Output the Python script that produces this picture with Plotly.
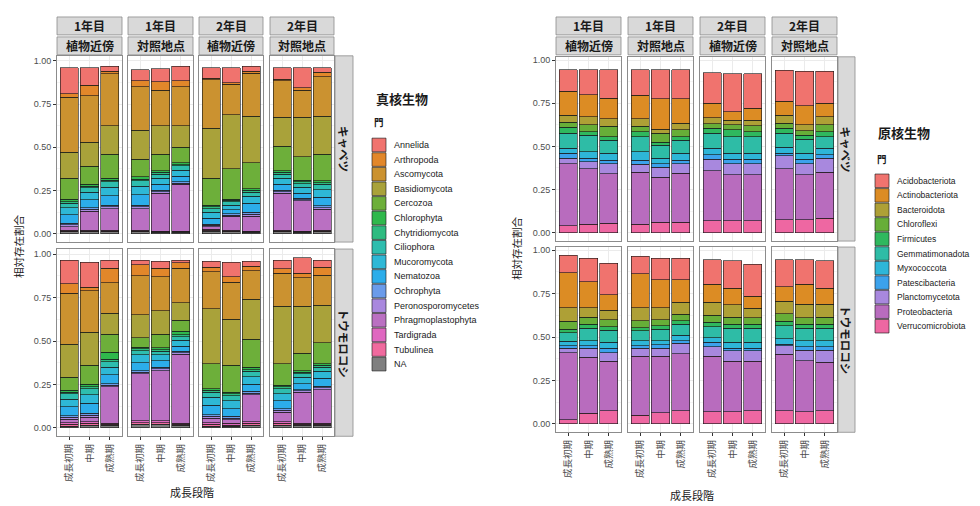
import plotly.graph_objects as go

# page body keeps an 8px margin, so the figure is drawn 8px in from the corner
PAGE_W, PAGE_H, OFF = 980, 506, 8
W, H = PAGE_W - OFF, PAGE_H - OFF

# ---------------- data ----------------
STAGES = ["成長初期", "中期", "成熟期"]
YEAR_LABELS = ["1年目", "1年目", "2年目", "2年目"]
SITE_LABELS = ["植物近傍", "対照地点", "植物近傍", "対照地点"]
CROP_LABELS = ["キャベツ", "トウモロコシ"]

EUK_TAXA = ["Annelida", "Arthropoda", "Ascomycota", "Basidiomycota", "Cercozoa",
            "Chlorophyta", "Chytridiomycota", "Ciliophora", "Mucoromycota",
            "Nematozoa", "Ochrophyta", "Peronosporomycetes", "Phragmoplastophyta",
            "Tardigrada", "Tubulinea", "NA"]
PRO_TAXA = ["Acidobacteriota", "Actinobacteriota", "Bacteroidota", "Chloroflexi",
            "Firmicutes", "Gemmatimonadota", "Myxococcota", "Patescibacteria",
            "Planctomycetota", "Proteobacteria", "Verrucomicrobiota"]

# each list: three bars (成長初期, 中期, 成熟期); each bar lists taxa in EUK_TAXA order
EUK_Y1_NEAR_CABBAGE = [
    [.15, .02, .32, .15, .12, .015, .01, .025, .04, .05, .01, .01, .02, .005, .005, .01],
    [.10, .06, .27, .14, .105, .01, .01, .025, .045, .045, .01, .01, .11, .005, .005, .01],
    [.03, .015, .30, .165, .14, .01, .01, .03, .05, .055, .01, .01, .125, .005, .005, .01],
]
EUK_Y1_CTRL_CABBAGE = [
    [.065, .035, .25, .17, .10, .015, .01, .03, .05, .06, .01, .01, .125, .005, .005, .01],
    [.075, .05, .205, .165, .095, .01, .01, .025, .035, .035, .008, .007, .22, .003, .004, .008],
    [.085, .035, .225, .125, .09, .01, .008, .025, .035, .032, .008, .007, .27, .003, .004, .008],
]
EUK_Y2_NEAR_CABBAGE = [
    [.06, .01, .28, .29, .155, .01, .01, .02, .035, .035, .008, .007, .015, .005, .005, .015],
    [.085, .01, .175, .315, .175, .008, .008, .02, .025, .025, .007, .007, .08, .005, .005, .01],
    [.03, .01, .25, .27, .15, .01, .01, .025, .04, .05, .013, .012, .085, .003, .004, .008],
]
EUK_Y2_CTRL_CABBAGE = [
    [.065, .01, .21, .17, .14, .01, .01, .025, .035, .035, .008, .007, .215, .005, .005, .01],
    [.115, .015, .155, .23, .135, .01, .01, .02, .035, .03, .008, .007, .175, .003, .004, .008],
    [.025, .025, .23, .22, .155, .01, .01, .03, .045, .05, .01, .01, .12, .005, .005, .01],
]
EUK_Y1_NEAR_CORN = [
    [.135, .055, .295, .19, .075, .01, .01, .03, .045, .05, .01, .01, .02, .01, .01, .01],
    [.145, .02, .24, .19, .11, .015, .01, .035, .05, .055, .013, .012, .025, .01, .01, .015],
    [.045, .085, .175, .12, .105, .04, .015, .03, .045, .05, .01, .01, .21, .005, .005, .015],
]
EUK_Y1_CTRL_CORN = [
    [.025, .065, .225, .13, .055, .01, .01, .025, .045, .045, .01, .01, .27, .01, .01, .02],
    [.04, .05, .195, .135, .08, .01, .01, .02, .035, .035, .01, .01, .29, .01, .01, .02],
    [.015, .03, .20, .10, .065, .02, .01, .02, .035, .03, .008, .007, .40, .005, .005, .015],
]
EUK_Y2_NEAR_CORN = [
    [.035, .025, .215, .315, .145, .01, .01, .03, .045, .055, .01, .01, .025, .01, .01, .01],
    [.085, .03, .215, .265, .155, .01, .01, .03, .045, .045, .01, .01, .02, .01, .005, .01],
    [.03, .025, .165, .23, .16, .015, .01, .03, .045, .04, .01, .01, .155, .01, .01, .015],
]
EUK_Y2_CTRL_CORN = [
    [.05, .025, .19, .33, .125, .01, .01, .03, .04, .045, .01, .01, .055, .01, .01, .015],
    [.09, .025, .165, .27, .10, .01, .01, .02, .035, .035, .008, .007, .18, .005, .005, .015],
    [.04, .045, .175, .215, .12, .01, .01, .025, .04, .045, .01, .01, .195, .005, .005, .015],
]

# each bar lists taxa in PRO_TAXA order
PRO_Y1_NEAR_CABBAGE = [
    [.125, .14, .04, .03, .035, .085, .03, .03, .03, .36, .04],
    [.145, .13, .045, .04, .02, .095, .04, .02, .04, .32, .05],
    [.165, .12, .045, .06, .02, .075, .04, .02, .06, .285, .055],
]
PRO_Y1_CTRL_CABBAGE = [
    [.15, .135, .045, .03, .03, .085, .05, .025, .045, .30, .05],
    [.17, .175, .025, .05, .02, .075, .03, .02, .06, .26, .06],
    [.17, .14, .04, .04, .02, .075, .04, .02, .055, .285, .06],
]
PRO_Y2_NEAR_CABBAGE = [
    [.175, .085, .035, .025, .03, .085, .04, .025, .065, .29, .07],
    [.22, .05, .025, .03, .04, .095, .035, .025, .065, .265, .07],
    [.20, .07, .03, .035, .03, .095, .035, .025, .065, .265, .07],
]
PRO_Y2_CTRL_CABBAGE = [
    [.18, .08, .045, .03, .03, .08, .035, .015, .075, .295, .075],
    [.20, .11, .035, .025, .025, .08, .035, .025, .065, .26, .075],
    [.185, .08, .045, .04, .03, .065, .04, .02, .08, .265, .085],
]
PRO_Y1_NEAR_CORN = [
    [.10, .20, .08, .045, .02, .05, .025, .015, .025, .385, .025],
    [.135, .15, .055, .04, .025, .07, .03, .015, .05, .325, .06],
    [.18, .09, .055, .04, .02, .07, .035, .025, .05, .285, .075],
]
PRO_Y1_CTRL_CORN = [
    [.10, .195, .075, .04, .02, .055, .03, .015, .045, .34, .05],
    [.125, .16, .07, .035, .02, .065, .025, .02, .045, .325, .065],
    [.125, .13, .07, .035, .02, .065, .03, .015, .06, .33, .075],
]
PRO_Y2_NEAR_CORN = [
    [.14, .105, .075, .04, .025, .065, .025, .025, .055, .32, .07],
    [.16, .095, .07, .04, .025, .08, .035, .015, .06, .29, .07],
    [.185, .07, .055, .035, .025, .08, .035, .015, .06, .285, .075],
]
PRO_Y2_CTRL_CORN = [
    [.155, .085, .07, .045, .025, .075, .03, .01, .05, .325, .075],
    [.14, .115, .08, .035, .025, .07, .035, .02, .06, .295, .07],
    [.16, .09, .075, .04, .025, .07, .035, .02, .07, .28, .075],
]

EUK_PANELS = [
    [EUK_Y1_NEAR_CABBAGE, EUK_Y1_CTRL_CABBAGE, EUK_Y2_NEAR_CABBAGE, EUK_Y2_CTRL_CABBAGE],
    [EUK_Y1_NEAR_CORN, EUK_Y1_CTRL_CORN, EUK_Y2_NEAR_CORN, EUK_Y2_CTRL_CORN],
]
PRO_PANELS = [
    [PRO_Y1_NEAR_CABBAGE, PRO_Y1_CTRL_CABBAGE, PRO_Y2_NEAR_CABBAGE, PRO_Y2_CTRL_CABBAGE],
    [PRO_Y1_NEAR_CORN, PRO_Y1_CTRL_CORN, PRO_Y2_NEAR_CORN, PRO_Y2_CTRL_CORN],
]

# ---------------- style ----------------
EUK_COLORS = ["#F0736E", "#E2872A", "#CB9230", "#A9A23A", "#6DAF3A", "#2FB84C",
              "#2EBB80", "#2EBDAE", "#2EB8D6", "#2CADEA", "#6A9BEA", "#A988DE",
              "#BA70C2", "#DF67C0", "#F06A9E", "#7F7F7F"]
PRO_COLORS = ["#F0736E", "#DC8C24", "#AEA036", "#67AE38", "#2FB85E", "#2EBCA6",
              "#2EB6D8", "#3CA2EC", "#A888DE", "#B86CBE", "#EE67A2"]

FONT = "Liberation Sans, Noto Sans CJK JP, sans-serif"
JP = "Noto Sans CJK JP, sans-serif"
OUTLINE = "rgba(25,25,25,0.9)"


def fx(p):
    return (p - OFF) / W


def fy(p):
    return 1 - (p - OFF) / H


CHARTS = [
    dict(taxa=EUK_TAXA, colors=EUK_COLORS, panels=EUK_PANELS,
         cols=[(57, 122), (128, 193), (199, 263), (270, 334)],
         rows=[(54, 241), (248, 436)], rstrip=(335, 353),
         strips=[(15, 33), (35, 53)], yrange=[-0.049, 1.03],
         ytitle=(18, 245), xtitle=(192, 492),
         leg=dict(title="真核生物", tx=374, ty=97, sub_y=120, sx=372, sy0=143.5,
                  step=14.67, tsize=9)),
    dict(taxa=PRO_TAXA, colors=PRO_COLORS, panels=PRO_PANELS,
         cols=[(556, 621), (628, 693), (700, 765), (772, 837)],
         rows=[(55, 240), (246, 432)], rstrip=(838, 855),
         strips=[(15, 33), (35, 53)], yrange=[-0.0485, 1.0185],
         ytitle=(516, 247), xtitle=(692, 495),
         leg=dict(title="原核生物", tx=876, ty=131, sub_y=158, sx=875, sy0=179.5,
                  step=14.6, tsize=8.5)),
]

fig = go.Figure()
layout = dict(
    width=W, height=H, margin=dict(l=0, r=0, t=0, b=0),
    paper_bgcolor="white", plot_bgcolor="white", barmode="stack",
    showlegend=False, font=dict(family=FONT, color="#1A1A1A"),
)
shapes, annotations = [], []

idx = 0
for chart in CHARTS:
    taxa, colors = chart["taxa"], chart["colors"]
    for r, (ry0, ry1) in enumerate(chart["rows"]):
        for c, (cx0, cx1) in enumerate(chart["cols"]):
            idx += 1
            xa = "x" if idx == 1 else f"x{idx}"
            ya = "y" if idx == 1 else f"y{idx}"
            panel = chart["panels"][r][c]
            # add bottom taxon first so first taxon ends on top
            for t in range(len(taxa) - 1, -1, -1):
                fig.add_trace(go.Bar(
                    x=STAGES, y=[bar[t] for bar in panel], name=taxa[t],
                    width=0.9, xaxis=xa, yaxis=ya,
                    marker=dict(color=colors[t], line=dict(color=OUTLINE, width=0.7)),
                    hovertemplate=taxa[t] + ": %{y:.3f}<extra></extra>",
                ))
            bottom = r == len(chart["rows"]) - 1
            first = c == 0
            layout[xa.replace("x", "xaxis")] = dict(
                domain=[fx(cx0), fx(cx1)], anchor=ya, type="category",
                range=[-0.6, 2.6], showline=True, mirror=True,
                linecolor="#8C8C8C", linewidth=0.8,
                showgrid=True, gridcolor="#EBEBEB", gridwidth=0.8,
                ticks="outside" if bottom else "", ticklen=3, tickcolor="#333333",
                showticklabels=bottom, tickangle=-90,
                tickfont=dict(size=9.5, color="#4D4D4D", family=JP),
                zeroline=False, fixedrange=True,
            )
            layout[ya.replace("y", "yaxis")] = dict(
                domain=[fy(ry1), fy(ry0)], anchor=xa, range=chart["yrange"],
                showline=True, mirror=True, linecolor="#8C8C8C", linewidth=0.8,
                showgrid=True, gridcolor="#EBEBEB", gridwidth=0.8,
                minor=dict(dtick=0.125, showgrid=True, gridcolor="#F4F4F4", gridwidth=0.5),
                tickvals=[0, 0.25, 0.5, 0.75, 1.0], tickformat=".2f",
                ticks="outside" if first else "", ticklen=3, tickcolor="#333333",
                showticklabels=first, tickfont=dict(size=9, color="#4D4D4D"),
                zeroline=False, fixedrange=True,
            )
    # column strips
    for c, (cx0, cx1) in enumerate(chart["cols"]):
        for s, (sy0, sy1) in enumerate(chart["strips"]):
            shapes.append(dict(type="rect", xref="paper", yref="paper",
                               x0=fx(cx0), x1=fx(cx1), y0=fy(sy1), y1=fy(sy0),
                               fillcolor="#D9D9D9", line=dict(color="#8C8C8C", width=0.8)))
            label = YEAR_LABELS[c] if s == 0 else SITE_LABELS[c]
            annotations.append(dict(xref="paper", yref="paper",
                                    x=fx((cx0 + cx1) / 2), y=fy((sy0 + sy1) / 2),
                                    text=f"<b>{label}</b>", showarrow=False,
                                    font=dict(size=12, family=JP, color="#1A1A1A"),
                                    xanchor="center", yanchor="middle"))
    # row strips
    rx0, rx1 = chart["rstrip"]
    for r, (ry0, ry1) in enumerate(chart["rows"]):
        shapes.append(dict(type="rect", xref="paper", yref="paper",
                           x0=fx(rx0), x1=fx(rx1), y0=fy(ry1), y1=fy(ry0),
                           fillcolor="#D9D9D9", line=dict(color="#8C8C8C", width=0.8)))
        annotations.append(dict(xref="paper", yref="paper",
                                x=fx((rx0 + rx1) / 2), y=fy((ry0 + ry1) / 2),
                                text=f"<b>{CROP_LABELS[r]}</b>", showarrow=False,
                                textangle=90,
                                font=dict(size=11.5, family=JP, color="#1A1A1A"),
                                xanchor="center", yanchor="middle"))
    # axis titles
    tx, ty = chart["ytitle"]
    annotations.append(dict(xref="paper", yref="paper", x=fx(tx), y=fy(ty),
                            text="相対存在割合", showarrow=False, textangle=-90,
                            font=dict(size=10.5, family=JP, color="#1A1A1A"),
                            xanchor="center", yanchor="middle"))
    tx, ty = chart["xtitle"]
    annotations.append(dict(xref="paper", yref="paper", x=fx(tx), y=fy(ty),
                            text="成長段階", showarrow=False,
                            font=dict(size=11, family=JP, color="#1A1A1A"),
                            xanchor="center", yanchor="middle"))
    # legend
    lg = chart["leg"]
    annotations.append(dict(xref="paper", yref="paper", x=fx(lg["tx"]), y=fy(lg["ty"]),
                            text=f"<b>{lg['title']}</b>", showarrow=False,
                            font=dict(size=13, family=JP, color="#1A1A1A"),
                            xanchor="left", yanchor="middle"))
    annotations.append(dict(xref="paper", yref="paper", x=fx(lg["sx"]), y=fy(lg["sub_y"]),
                            text="<b>門</b>", showarrow=False,
                            font=dict(size=9.5, family=JP, color="#1A1A1A"),
                            xanchor="left", yanchor="middle"))
    for i, (name, col) in enumerate(zip(taxa, colors)):
        cy = lg["sy0"] + lg["step"] * i
        shapes.append(dict(type="rect", xref="paper", yref="paper",
                           x0=fx(lg["sx"]), x1=fx(lg["sx"] + 14),
                           y0=fy(cy + lg["step"] / 2 - 0.5), y1=fy(cy - lg["step"] / 2 + 0.5),
                           fillcolor=col, line=dict(color=OUTLINE, width=0.7)))
        annotations.append(dict(xref="paper", yref="paper",
                                x=fx(lg["sx"] + 20), y=fy(cy), text=name,
                                showarrow=False, xanchor="left", yanchor="middle",
                                font=dict(size=lg["tsize"], color="#1A1A1A")))

layout["shapes"] = shapes
layout["annotations"] = annotations
fig.update_layout(**layout)
fig.write_html("out.html")
